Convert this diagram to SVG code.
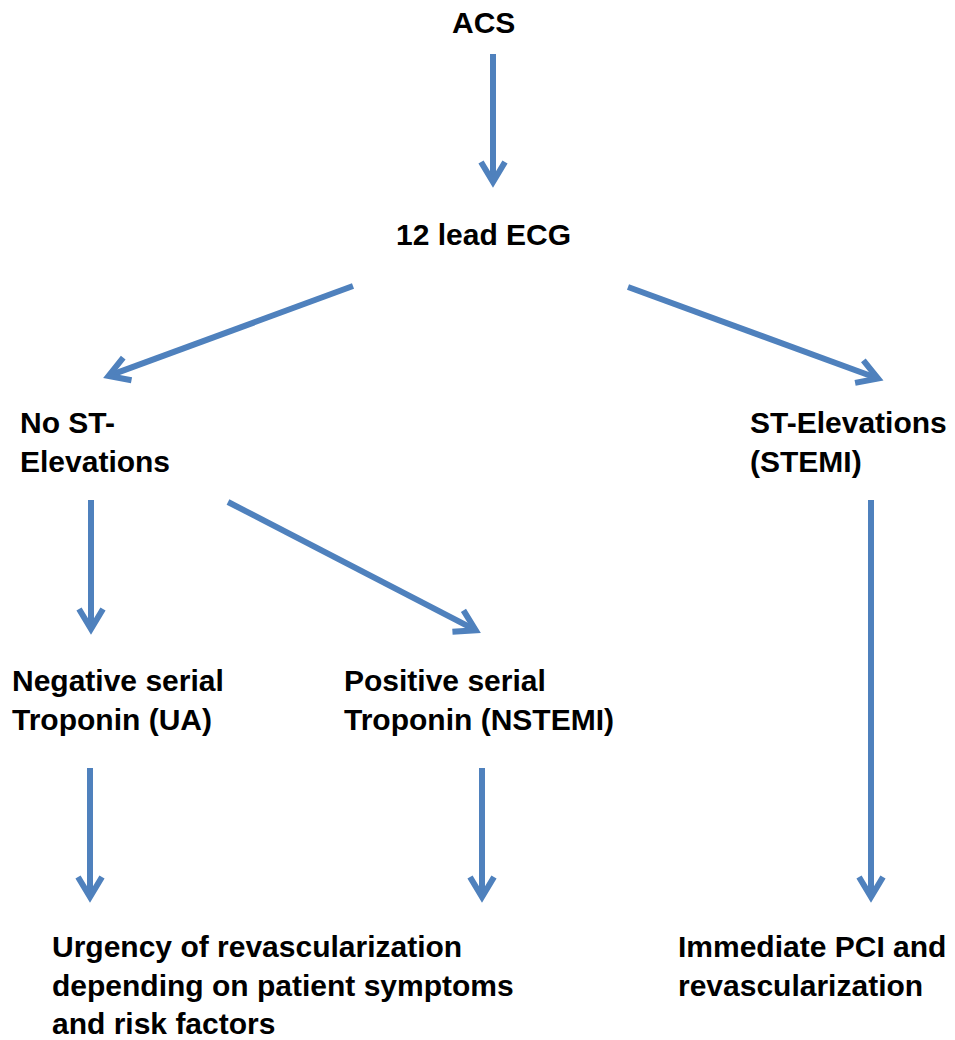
<svg xmlns="http://www.w3.org/2000/svg" width="955" height="1040" viewBox="0 0 955 1040">
<style>
  text { font-family: "Liberation Sans", Arial, sans-serif; font-weight: bold; font-size: 30px; fill: #000; }
  .conn line { stroke: #4F81BD; stroke-width: 6; fill: none; }
</style>
<defs>
  <marker id="chev" markerUnits="userSpaceOnUse" markerWidth="40" markerHeight="40" viewBox="-30 -20 40 40" refX="0" refY="0" orient="auto" overflow="visible">
    <path d="M-20,-12 L0,0 L-20,12" fill="none" stroke="#4F81BD" stroke-width="6" stroke-linejoin="miter"/>
  </marker>
</defs>
<rect width="955" height="1040" fill="#fff"/>
<g id="connectors" class="conn">
  <line x1="493" y1="54" x2="493" y2="182" marker-end="url(#chev)"/>
  <line x1="353" y1="286" x2="108.6" y2="375.9" marker-end="url(#chev)"/>
  <line x1="628" y1="287" x2="878" y2="378.5" marker-end="url(#chev)"/>
  <line x1="91" y1="500" x2="91" y2="629" marker-end="url(#chev)"/>
  <line x1="228" y1="502" x2="475.7" y2="630.2" marker-end="url(#chev)"/>
  <line x1="90" y1="768" x2="90" y2="897" marker-end="url(#chev)"/>
  <line x1="482" y1="768" x2="482" y2="897" marker-end="url(#chev)"/>
  <line x1="871" y1="500" x2="871" y2="897" marker-end="url(#chev)"/>
</g>
<g id="acs"><text x="452" y="33">ACS</text></g>
<g id="ecg"><text x="396" y="245">12 lead ECG</text></g>
<g id="nost"><text x="20" y="433">No ST-</text><text x="20" y="472">Elevations</text></g>
<g id="stemi"><text x="750" y="433">ST-Elevations</text><text x="750" y="472">(STEMI)</text></g>
<g id="ua"><text x="12" y="691">Negative serial</text><text x="12" y="730">Troponin (UA)</text></g>
<g id="nstemi"><text x="344" y="691">Positive serial</text><text x="344" y="730">Troponin (NSTEMI)</text></g>
<g id="urgency"><text x="52" y="957">Urgency of revascularization</text><text x="52" y="996">depending on patient symptoms</text><text x="52" y="1034">and risk factors</text></g>
<g id="pci"><text x="678" y="957">Immediate PCI and</text><text x="678" y="996">revascularization</text></g>
</svg>
